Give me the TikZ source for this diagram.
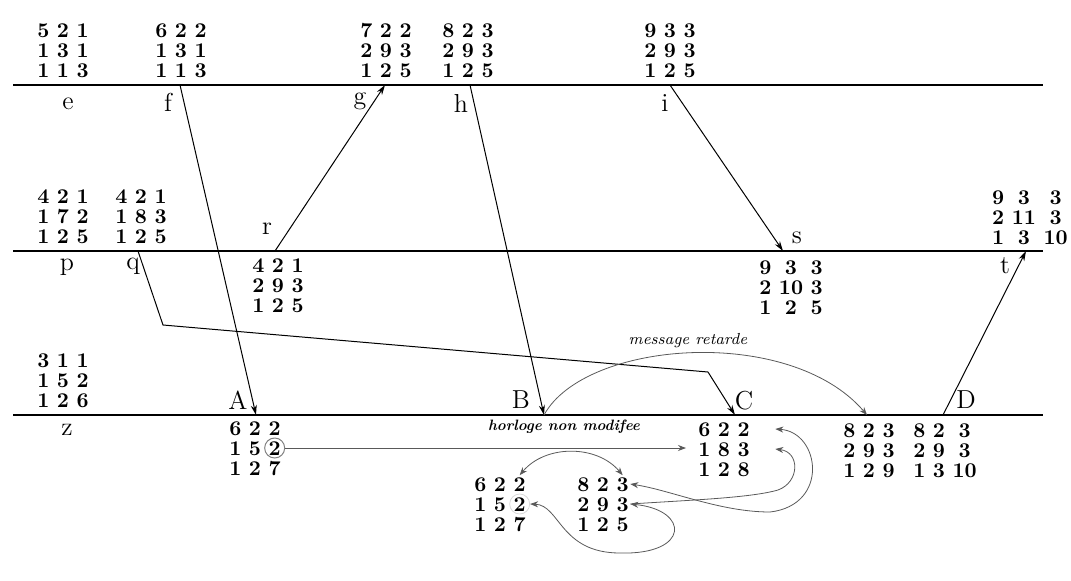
\documentclass[tikz,border=0pt]{standalone}
\usetikzlibrary{matrix,arrows.meta}
\begin{document}
\begin{tikzpicture}[x=0.5pt,y=-0.5pt,>={Stealth[length=4pt,width=3pt]},
  vec/.style={matrix of nodes,ampersand replacement=\&,column sep=2.6pt,row sep=1.6pt,
    nodes={inner sep=0.6pt,text height=7.2pt,text depth=0pt,minimum width=6pt,
      font=\fontsize{10.5}{11}\selectfont\bfseries}},
  lbl/.style={font=\fontsize{13}{15}\selectfont},
  ln/.style={line width=0.8pt},
  msg/.style={line width=0.5pt,-{Stealth[length=5pt,width=3pt]}},
  note/.style={gray!70!black,line width=0.4pt}]
\useasboundingbox (0,0) rectangle (1071,580);
\draw[ln] (13,85) -- (1043,85);
\draw[ln] (13,251) -- (1043,251);
\draw[ln] (13,415) -- (1043,415);
\coordinate (f) at (180,85);
\coordinate (g) at (385,85);
\coordinate (h) at (470,85);
\coordinate (i) at (670,85);
\coordinate (q) at (138,251);
\coordinate (r) at (275,251);
\coordinate (s) at (783,251);
\coordinate (t) at (1026,251);
\coordinate (A) at (256,415);
\coordinate (B) at (544,415);
\coordinate (C) at (735,415);
\coordinate (Cd) at (867,415);
\coordinate (D) at (943,415);
\coordinate (q1) at (163,325);
\coordinate (q2) at (708,372);
\coordinate (hend) at (686,443);
\matrix (me) [vec] at (63,50) {5 \& 2 \& 1\\ 1 \& 3 \& 1\\ 1 \& 1 \& 3\\};
\matrix (mf) [vec] at (181,50) {6 \& 2 \& 2\\ 1 \& 3 \& 1\\ 1 \& 1 \& 3\\};
\matrix (mg) [vec] at (386,50) {7 \& 2 \& 2\\ 2 \& 9 \& 3\\ 1 \& 2 \& 5\\};
\matrix (mh) [vec] at (468,50) {8 \& 2 \& 3\\ 2 \& 9 \& 3\\ 1 \& 2 \& 5\\};
\matrix (mi) [vec] at (670,50) {9 \& 3 \& 3\\ 2 \& 9 \& 3\\ 1 \& 2 \& 5\\};
\matrix (mp) [vec] at (63,216) {4 \& 2 \& 1\\ 1 \& 7 \& 2\\ 1 \& 2 \& 5\\};
\matrix (mq) [vec] at (141,216) {4 \& 2 \& 1\\ 1 \& 8 \& 3\\ 1 \& 2 \& 5\\};
\matrix (mt) [vec] at (1030,217) {9 \& 3 \& 3\\ 2 \& 11 \& 3\\ 1 \& 3 \& 10\\};
\matrix (mr) [vec] at (278,285) {4 \& 2 \& 1\\ 2 \& 9 \& 3\\ 1 \& 2 \& 5\\};
\matrix (ms) [vec] at (791,287) {9 \& 3 \& 3\\ 2 \& 10 \& 3\\ 1 \& 2 \& 5\\};
\matrix (mz) [vec] at (63,380) {3 \& 1 \& 1\\ 1 \& 5 \& 2\\ 1 \& 2 \& 6\\};
\matrix (mA) [vec] at (255,448) {6 \& 2 \& 2\\ 1 \& 5 \& 2\\ 1 \& 2 \& 7\\};
\matrix (mC) [vec] at (724,449) {6 \& 2 \& 2\\ 1 \& 8 \& 3\\ 1 \& 2 \& 8\\};
\matrix (mD1) [vec] at (869,450) {8 \& 2 \& 3\\ 2 \& 9 \& 3\\ 1 \& 2 \& 9\\};
\matrix (mD2) [vec] at (945,450) {8 \& 2 \& 3\\ 2 \& 9 \& 3\\ 1 \& 3 \& 10\\};
\matrix (mL) [vec] at (500,504) {6 \& 2 \& 2\\ 1 \& 5 \& 2\\ 1 \& 2 \& 7\\};
\matrix (mR) [vec] at (603,504) {8 \& 2 \& 3\\ 2 \& 9 \& 3\\ 1 \& 2 \& 5\\};
\node[lbl] (le) at (68,104) {e};
\node[lbl] (lf) at (168,102) {f};
\node[lbl] (lg) at (360,101) {g};
\node[lbl] (lh) at (461,103) {h};
\node[lbl] (li) at (665,103) {i};
\node[lbl] (lp) at (67,267) {p};
\node[lbl] (lq) at (133,266) {q};
\node[lbl] (lr) at (267,229) {r};
\node[lbl] (ls) at (797,238) {s};
\node[lbl] (lt) at (1005,266) {t};
\node[lbl] (lz) at (67,430) {z};
\node[lbl] (lA) at (238,400) {A};
\node[lbl] (lB) at (521,400) {B};
\node[lbl] (lC) at (744,401) {C};
\node[lbl] (lD) at (966,400) {D};
\draw[msg] (f) -- (A);
\draw[msg] (r) -- (g);
\draw[msg] (h) -- (B);
\draw[msg] (i) -- (s);
\draw[msg] (D) -- (t);
\draw[msg] (q) -- (q1) -- (q2) -- (C);
\draw[note,->] (B) .. controls (585,340) and (790,325) .. (Cd);
\node[font=\fontsize{8}{9}\selectfont\itshape] (lret) at (688,341) {message retarde};
\node[circle,draw=gray,line width=0.5pt,minimum size=10pt,inner sep=0pt] (ring) at (mA-2-3) {};
\node[circle,draw=gray!30,minimum size=10pt,inner sep=0pt] (ring2) at (mL-2-3) {};
\draw[note,->] (ring.east) -- (ring.east -| hend);
\node[font=\fontsize{7.5}{9}\selectfont\bfseries\itshape] (lhor) at (564,427) {horloge non modifee};
\draw[note,<->] (mL-1-3.north) to[bend left=50] (mR-1-3.north);
\draw[note,<->] (mR-2-3.east) .. controls (690,510) and (690,555) .. (620,553)
  .. controls (560,553) and (560,505) .. (ring2.east);
\draw[note,<->] (mR-1-3.east) .. controls (670,490) and (720,512) .. (770,512)
  .. controls (830,505) and (820,432) .. ([xshift=12pt]mC-1-3.east);
\draw[note,->] (mR-2-3.east) .. controls (690,500) and (750,498) .. (778,490)
  .. controls (800,482) and (800,452) .. ([xshift=12pt]mC-2-3.east);
\end{tikzpicture}
\end{document}
